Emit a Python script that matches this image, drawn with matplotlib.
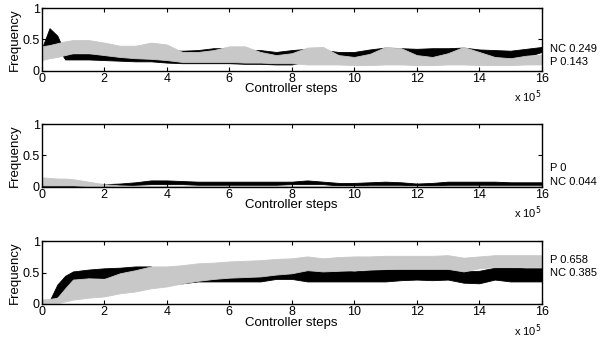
import numpy as np
import matplotlib
matplotlib.use("Agg")
import matplotlib.pyplot as plt

plt.rcParams['font.family'] = ['Liberation Sans', 'DejaVu Sans']
plt.rcParams['font.size'] = 8

# controller steps (x 10^5)
steps = [0, 0.25, 0.5, 0.75, 1, 1.5, 2, 2.5, 3, 3.5, 4, 4.5, 5, 5.5, 6, 6.5, 7, 7.5,
         8, 8.5, 9, 9.5, 10, 10.5, 11, 11.5, 12, 12.5, 13, 13.5, 14, 14.5, 15, 15.5, 16]

# panel 1 - envelopes (low / high) of the frequency traces
nc1_lo = [0.20, 0.40, 0.38, 0.18, 0.18, 0.18, 0.17, 0.16, 0.15, 0.15, 0.13, 0.12, 0.12, 0.12,
          0.12, 0.11, 0.11, 0.10, 0.10, 0.15, 0.18, 0.20, 0.20, 0.24, 0.28, 0.27, 0.20, 0.20,
          0.25, 0.28, 0.22, 0.19, 0.18, 0.22, 0.30]
nc1_hi = [0.35, 0.68, 0.56, 0.28, 0.27, 0.27, 0.27, 0.38, 0.38, 0.38, 0.33, 0.32, 0.33, 0.36,
          0.36, 0.33, 0.33, 0.30, 0.33, 0.35, 0.33, 0.30, 0.30, 0.34, 0.37, 0.36, 0.35, 0.36,
          0.36, 0.37, 0.34, 0.33, 0.32, 0.35, 0.38]
p1_lo = [0.17, 0.20, 0.22, 0.25, 0.28, 0.28, 0.25, 0.22, 0.20, 0.19, 0.17, 0.14, 0.14, 0.14,
         0.14, 0.13, 0.13, 0.12, 0.12, 0.10, 0.10, 0.10, 0.09, 0.09, 0.10, 0.10, 0.09, 0.09,
         0.10, 0.10, 0.09, 0.09, 0.09, 0.10, 0.10]
p1_hi = [0.39, 0.41, 0.44, 0.47, 0.49, 0.49, 0.45, 0.40, 0.40, 0.45, 0.42, 0.30, 0.30, 0.33,
         0.39, 0.39, 0.30, 0.25, 0.28, 0.37, 0.38, 0.25, 0.22, 0.27, 0.38, 0.36, 0.25, 0.22,
         0.28, 0.38, 0.30, 0.22, 0.20, 0.24, 0.26]

# panel 2
p2_lo = [0.02, 0.02, 0.02, 0.02, 0.02, 0.01, 0.01, 0.0, 0.0, 0.0, 0.0, 0.0, 0.0, 0.0,
         0.0, 0.0, 0.0, 0.0, 0.0, 0.0, 0.0, 0.0, 0.0, 0.0, 0.0, 0.0, 0.0, 0.0,
         0.0, 0.0, 0.0, 0.0, 0.0, 0.0, 0.0]
p2_hi = [0.15, 0.14, 0.13, 0.13, 0.12, 0.08, 0.04, 0.02, 0.01, 0.01, 0.01, 0.01, 0.01, 0.01,
         0.01, 0.01, 0.01, 0.01, 0.01, 0.01, 0.01, 0.01, 0.01, 0.01, 0.01, 0.01, 0.01, 0.01,
         0.01, 0.01, 0.01, 0.01, 0.01, 0.01, 0.01]
nc2_lo = [0.0, 0.0, 0.0, 0.0, 0.0, 0.0, 0.01, 0.02, 0.03, 0.04, 0.04, 0.04, 0.03, 0.03,
          0.03, 0.03, 0.03, 0.03, 0.04, 0.04, 0.04, 0.02, 0.02, 0.03, 0.03, 0.03, 0.02, 0.02,
          0.03, 0.03, 0.03, 0.03, 0.03, 0.03, 0.03]
nc2_hi = [0.03, 0.02, 0.02, 0.02, 0.02, 0.02, 0.04, 0.05, 0.07, 0.10, 0.10, 0.09, 0.08, 0.08,
          0.08, 0.08, 0.08, 0.08, 0.08, 0.10, 0.08, 0.06, 0.06, 0.07, 0.08, 0.07, 0.05, 0.06,
          0.08, 0.08, 0.08, 0.08, 0.07, 0.07, 0.07]

# panel 3
nc3_lo = [0.0, 0.0, 0.12, 0.20, 0.36, 0.41, 0.41, 0.44, 0.47, 0.45, 0.33, 0.33, 0.36, 0.36,
          0.36, 0.36, 0.36, 0.40, 0.40, 0.36, 0.36, 0.36, 0.36, 0.36, 0.36, 0.38, 0.39, 0.38,
          0.39, 0.34, 0.33, 0.39, 0.36, 0.36, 0.36]
nc3_hi = [0.03, 0.05, 0.31, 0.45, 0.52, 0.55, 0.57, 0.58, 0.60, 0.60, 0.41, 0.44, 0.44, 0.46,
          0.47, 0.48, 0.49, 0.52, 0.54, 0.55, 0.55, 0.54, 0.52, 0.54, 0.55, 0.56, 0.58, 0.57,
          0.57, 0.52, 0.53, 0.58, 0.58, 0.57, 0.57]
p3_lo = [0.0, 0.0, 0.01, 0.04, 0.07, 0.10, 0.12, 0.17, 0.20, 0.25, 0.28, 0.33, 0.37, 0.40,
         0.42, 0.43, 0.44, 0.47, 0.49, 0.54, 0.52, 0.53, 0.54, 0.55, 0.56, 0.56, 0.56, 0.56,
         0.56, 0.52, 0.57, 0.59, 0.59, 0.59, 0.59]
p3_hi = [0.07, 0.08, 0.10, 0.25, 0.39, 0.41, 0.40, 0.49, 0.54, 0.60, 0.60, 0.62, 0.65, 0.66,
         0.68, 0.69, 0.70, 0.72, 0.73, 0.76, 0.73, 0.75, 0.76, 0.76, 0.77, 0.77, 0.77, 0.77,
         0.78, 0.74, 0.76, 0.78, 0.78, 0.78, 0.78]

panels = [
    (nc1_lo, nc1_hi, p1_lo, p1_hi, [("NC 0.249", 0.35), ("P 0.143", 0.14)]),
    (nc2_lo, nc2_hi, p2_lo, p2_hi, [("P 0", 0.30), ("NC 0.044", 0.08)]),
    (nc3_lo, nc3_hi, p3_lo, p3_hi, [("P 0.658", 0.70), ("NC 0.385", 0.49)]),
]
bottoms = [0.792, 0.451, 0.106]
gray = '#c8c8c8'

fig = plt.figure(figsize=(6, 3.4), dpi=100)
for (nlo, nhi, plo, phi, labels), b in zip(panels, bottoms):
    ax = fig.add_axes([0.0695, b, 0.8333, 0.184])
    ax.fill_between(steps, nlo, nhi, color='black', linewidth=0.6, edgecolor='black')
    ax.fill_between(steps, plo, phi, color=gray, linewidth=0.6, edgecolor=gray)
    ax.set_xlim(0, 16)
    ax.set_ylim(0, 1)
    ax.set_xticks(range(0, 17, 2))
    ax.set_yticks([0, 0.5, 1])
    ax.set_yticklabels(['0', '0.5', '1'])
    ax.tick_params(direction='in', top=True, right=True, length=3, pad=1.5, labelsize=9)
    for s in ax.spines.values():
        s.set_linewidth(1.0)
    ax.set_xlabel('Controller steps', labelpad=-1, fontsize=9.5)
    ax.set_ylabel('Frequency', labelpad=1, fontsize=9.5)
    ax.text(1.0, -0.42, r'x 10$^5$', transform=ax.transAxes, ha='right', va='center', fontsize=8)
    for txt, yv in labels:
        ax.text(16.28, yv, txt, ha='left', va='center', fontsize=8, clip_on=False)

fig.savefig('out.png', dpi=100)
